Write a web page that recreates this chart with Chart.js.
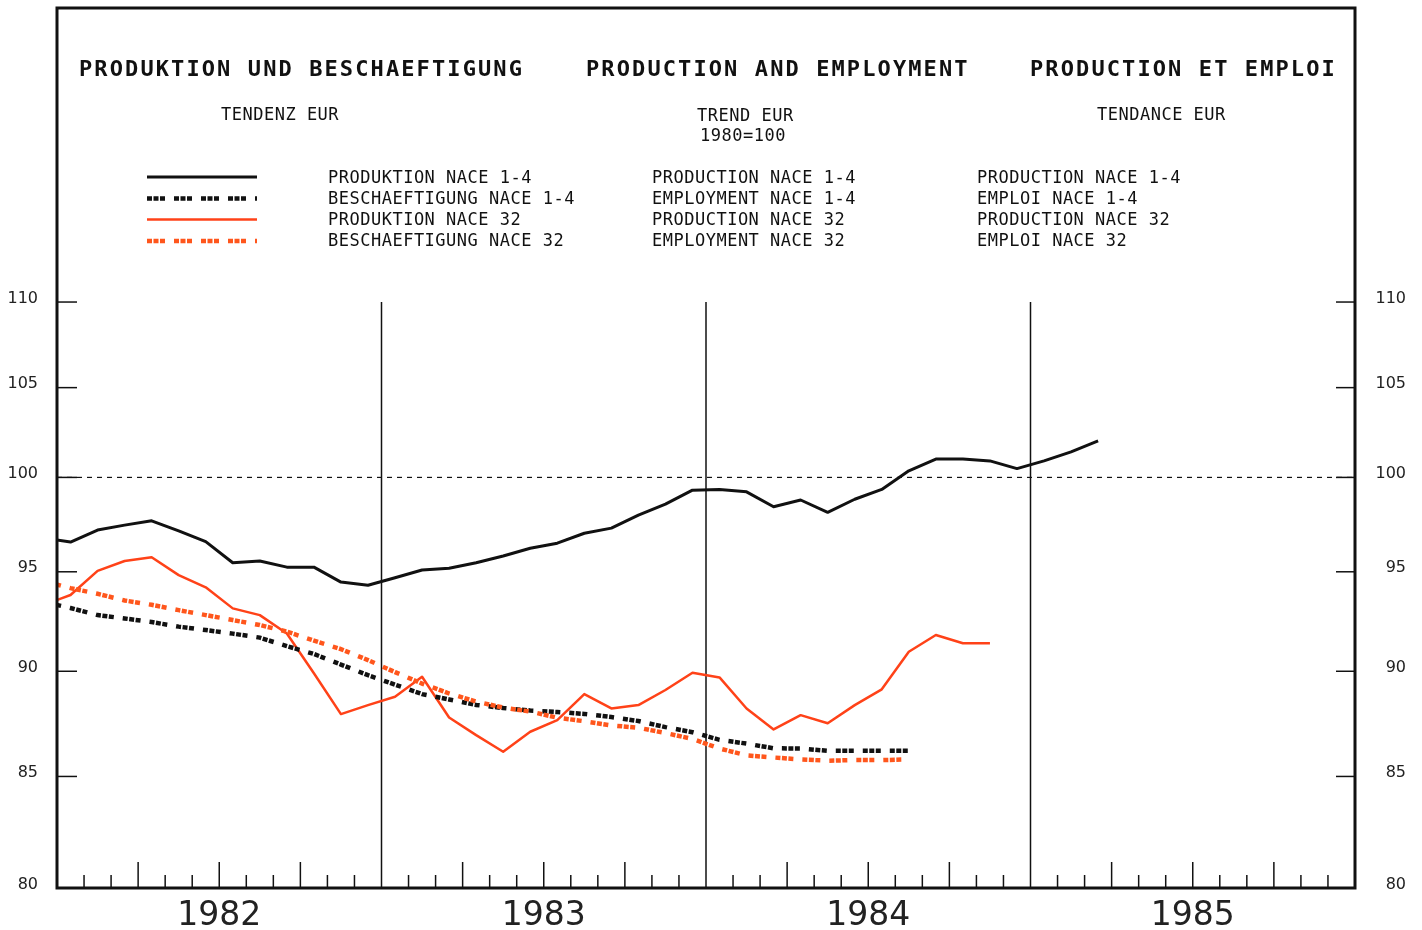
<!DOCTYPE html>
<html>
<head>
<meta charset="utf-8">
<script src="https://cdn.jsdelivr.net/npm/chart.js@4.4.1/dist/chart.umd.min.js"></script>
<style>
html, body { margin: 0; padding: 0; background: #fff; }
#wrap { position: relative; width: 1422px; height: 930px; }
#chart { position: absolute; left: 0; top: 0; }
.t { position: absolute; font-family: "DejaVu Sans Mono", monospace; color: #111; white-space: pre; line-height: 1; }
.big { font-size: 22px; font-weight: bold; letter-spacing: 2.1px; }
.small { font-size: 17px; letter-spacing: 0.5px; }
</style>
</head>
<body>
<div id="wrap">
  <canvas id="chart" width="1422" height="930"></canvas>

  <div class="t big" style="left:79px;top:58px">PRODUKTION UND BESCHAEFTIGUNG</div>
  <div class="t big" style="left:586px;top:58px">PRODUCTION AND EMPLOYMENT</div>
  <div class="t big" style="left:1030px;top:58px">PRODUCTION ET EMPLOI</div>

  <div class="t small" style="left:221px;top:106px">TENDENZ EUR</div>
  <div class="t small" style="left:697px;top:107px">TREND EUR</div>
  <div class="t small" style="left:700px;top:127px">1980=100</div>
  <div class="t small" style="left:1097px;top:106px">TENDANCE EUR</div>

  <div class="t small" style="left:328px;top:169px">PRODUKTION NACE 1-4</div>
  <div class="t small" style="left:328px;top:190px">BESCHAEFTIGUNG NACE 1-4</div>
  <div class="t small" style="left:328px;top:211px">PRODUKTION NACE 32</div>
  <div class="t small" style="left:328px;top:232px">BESCHAEFTIGUNG NACE 32</div>

  <div class="t small" style="left:652px;top:169px">PRODUCTION NACE 1-4</div>
  <div class="t small" style="left:652px;top:190px">EMPLOYMENT NACE 1-4</div>
  <div class="t small" style="left:652px;top:211px">PRODUCTION NACE 32</div>
  <div class="t small" style="left:652px;top:232px">EMPLOYMENT NACE 32</div>

  <div class="t small" style="left:977px;top:169px">PRODUCTION NACE 1-4</div>
  <div class="t small" style="left:977px;top:190px">EMPLOI NACE 1-4</div>
  <div class="t small" style="left:977px;top:211px">PRODUCTION NACE 32</div>
  <div class="t small" style="left:977px;top:232px">EMPLOI NACE 32</div>
</div>
<script>
// monthly trend values, first value = December 1981 (month index -1)
var startMonth = -1;
var prodNace14 = [96.75, 96.55, 97.18, 97.44, 97.67, 97.14, 96.57, 95.47, 95.56, 95.24, 95.24, 94.47, 94.31,
  94.69, 95.09, 95.18, 95.47, 95.82, 96.22, 96.49, 97.01, 97.28, 97.97, 98.56, 99.31,
  99.35, 99.22, 98.42, 98.78, 98.12, 98.82, 99.35, 100.36, 101.0, 101.0, 100.9, 100.48,
  100.9, 101.4, 102.0];
var emplNace14 = [93.45, 93.15, 92.79, 92.62, 92.44, 92.21, 92.04, 91.86, 91.66, 91.24, 90.85, 90.33, 89.81,
  89.35, 88.89, 88.63, 88.37, 88.22, 88.1, 88.03, 87.94, 87.79, 87.6, 87.31, 87.07,
  86.71, 86.53, 86.31, 86.3, 86.19, 86.19, 86.19, 86.19];
var prodNace32 = [93.3, 93.81, 95.05, 95.56, 95.75, 94.83, 94.2, 93.13, 92.79, 91.87, 89.9, 87.93, 88.36,
  88.76, 89.73, 87.77, 86.93, 86.15, 87.09, 87.64, 88.89, 88.2, 88.36, 89.09, 89.93,
  89.7, 88.2, 87.2, 87.88, 87.49, 88.36, 89.12, 90.96, 91.79, 91.38, 91.38];
var emplNace32 = [94.52, 94.16, 93.87, 93.53, 93.31, 93.04, 92.79, 92.54, 92.29, 91.96, 91.51, 91.09, 90.55,
  89.96, 89.4, 88.92, 88.53, 88.24, 88.05, 87.76, 87.59, 87.39, 87.28, 87.03, 86.75,
  86.3, 85.98, 85.88, 85.79, 85.73, 85.76, 85.76, 85.79];

var years = ['1982', '1983', '1984', '1985'];
var yTicks = [80, 85, 90, 95, 100, 105, 110];

var RED = '#ff4218';
var ORANGE = '#ff561c';
var groupDash = [5, 1.5, 5, 1.5, 5, 9];

function toPoints(arr) {
  return arr.map(function (v, k) { return { x: startMonth + k + 0.5, y: v }; });
}

var legendSamples = [
  { color: '#111', width: 3, dash: [] },
  { color: '#111', width: 4.5, dash: groupDash },
  { color: RED, width: 2.5, dash: [] },
  { color: ORANGE, width: 4.5, dash: groupDash }
];

function line(ctx, x1, y1, x2, y2) {
  ctx.beginPath(); ctx.moveTo(x1, y1); ctx.lineTo(x2, y2); ctx.stroke();
}

var framePlugin = {
  id: 'frame',
  beforeDatasetsDraw: function (chart) {
    var ctx = chart.ctx, a = chart.chartArea, x = chart.scales.x, y = chart.scales.y;
    ctx.save();
    ctx.strokeStyle = '#111';
    // reference line at 100
    ctx.lineWidth = 1.2;
    ctx.setLineDash([5, 5]);
    var y100 = y.getPixelForValue(100);
    line(ctx, a.left, y100, a.right, y100);
    ctx.setLineDash([]);
    // year separators
    ctx.lineWidth = 1.5;
    var yTop = y.getPixelForValue(110);
    for (var k = 1; k < years.length; k++) {
      var px = x.getPixelForValue(k * 12);
      line(ctx, px, yTop, px, a.bottom);
    }
    // inner value ticks
    yTicks.forEach(function (v) {
      var py = y.getPixelForValue(v);
      line(ctx, a.left, py, a.left + 20, py);
      line(ctx, a.right - 19, py, a.right, py);
    });
    // month / quarter ticks
    for (var m = 1; m < years.length * 12; m++) {
      if (m % 12 === 0) continue;
      var mx = x.getPixelForValue(m);
      var h = m % 3 === 0 ? 26 : 13;
      line(ctx, mx, a.bottom - h, mx, a.bottom);
    }
    ctx.restore();
  },
  afterDraw: function (chart) {
    var ctx = chart.ctx, a = chart.chartArea;
    ctx.save();
    ctx.strokeStyle = '#111';
    ctx.lineWidth = 3;
    ctx.strokeRect(a.left, a.top, a.right - a.left, a.bottom - a.top);
    // legend line samples
    var rows = [177, 198.5, 219.5, 241];
    legendSamples.forEach(function (s, i) {
      ctx.strokeStyle = s.color;
      ctx.lineWidth = s.width;
      ctx.setLineDash(s.dash);
      line(ctx, 147, rows[i], 257, rows[i]);
    });
    ctx.restore();
  }
};

var yearCenters = years.map(function (y, i) { return i * 12 + 6; });

function noPad(s) { s.paddingTop = 0; s.paddingBottom = 0; s.paddingLeft = 0; s.paddingRight = 0; }

var yAxisBase = {
  type: 'logarithmic',
  min: 80,
  max: 129.06,
  grid: { display: false, drawTicks: false },
  border: { display: false },
  afterBuildTicks: function (s) { s.ticks = yTicks.map(function (v) { return { value: v }; }); },
  ticks: {
    autoSkip: false,
    labelOffset: -3.5,
    color: '#222',
    font: { family: 'DejaVu Sans', size: 16 },
    callback: function (v) { return String(v); }
  }
};

new Chart(document.getElementById('chart').getContext('2d'), {
  type: 'line',
  data: {
    datasets: [{
      label: 'BESCHAEFTIGUNG NACE 32',
      data: toPoints(emplNace32),
      borderColor: ORANGE,
      borderWidth: 4.5,
      borderDash: groupDash,
      borderCapStyle: 'butt',
      pointRadius: 0,
      tension: 0
    }, {
      label: 'BESCHAEFTIGUNG NACE 1-4',
      data: toPoints(emplNace14),
      borderColor: '#111',
      borderWidth: 4.5,
      borderDash: groupDash,
      borderCapStyle: 'butt',
      pointRadius: 0,
      tension: 0
    }, {
      label: 'PRODUKTION NACE 32',
      data: toPoints(prodNace32),
      borderColor: RED,
      borderWidth: 2.5,
      borderJoinStyle: 'round',
      pointRadius: 0,
      tension: 0
    }, {
      label: 'PRODUKTION NACE 1-4',
      data: toPoints(prodNace14),
      borderColor: '#111',
      borderWidth: 3,
      borderJoinStyle: 'round',
      pointRadius: 0,
      tension: 0
    }]
  },
  options: {
    responsive: false,
    animation: false,
    layout: { padding: { top: 8, left: 0, right: 16, bottom: 0 } },
    plugins: { legend: { display: false }, tooltip: { enabled: false } },
    scales: {
      x: {
        type: 'linear',
        min: 0,
        max: years.length * 12,
        grid: { display: false, drawTicks: false },
        border: { display: false },
        afterBuildTicks: function (s) { s.ticks = yearCenters.map(function (v) { return { value: v }; }); },
        afterFit: function (s) { s.height = 42; noPad(s); },
        ticks: {
          autoSkip: false,
          maxRotation: 0,
          padding: 9,
          color: '#222',
          font: { family: 'DejaVu Sans', size: 33 },
          callback: function (v) { return years[yearCenters.indexOf(v)]; }
        }
      },
      y: Object.assign({}, yAxisBase, {
        position: 'left',
        afterFit: function (s) { s.width = 57; noPad(s); },
        ticks: Object.assign({}, yAxisBase.ticks, { padding: 19 })
      }),
      y2: Object.assign({}, yAxisBase, {
        position: 'right',
        afterFit: function (s) { s.width = 51; noPad(s); },
        ticks: Object.assign({}, yAxisBase.ticks, { padding: 21, crossAlign: 'far' })
      })
    }
  },
  plugins: [framePlugin]
});
</script>
</body>
</html>
